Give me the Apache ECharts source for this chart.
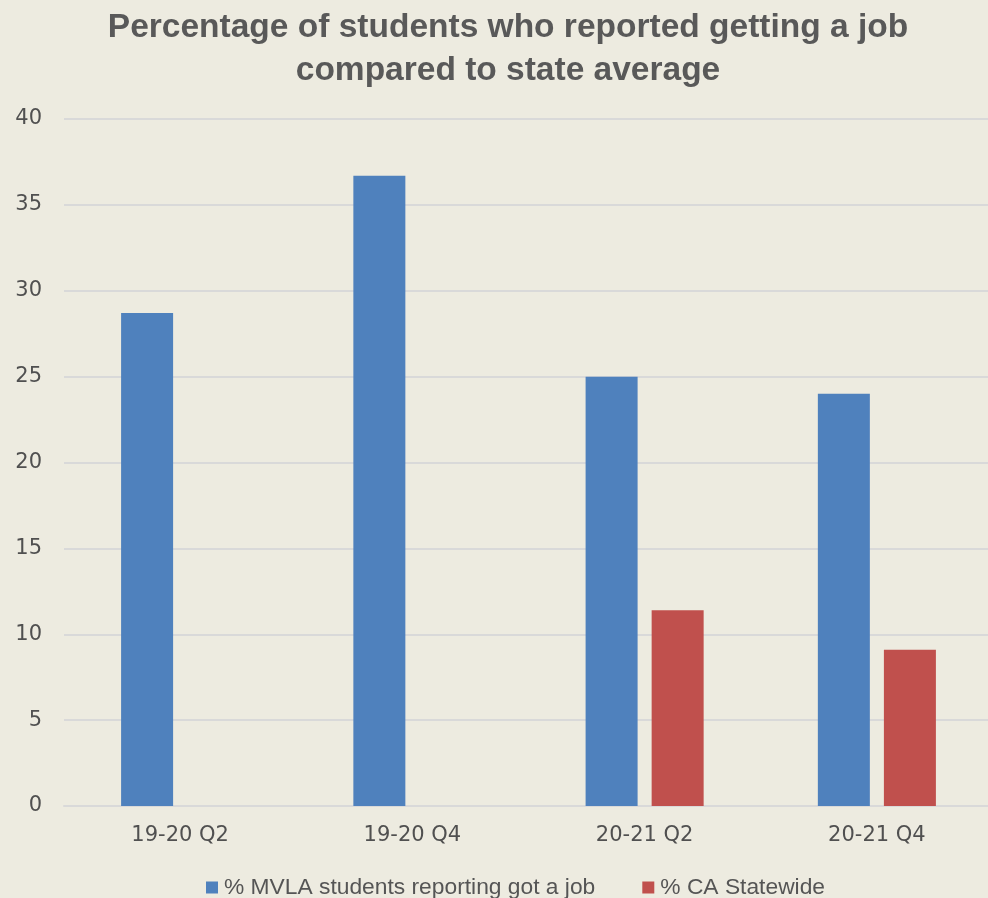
<!DOCTYPE html>
<html><head><meta charset="utf-8">
<script src="https://cdn.jsdelivr.net/npm/echarts@6/dist/echarts.min.js"></script>
<style>html,body{margin:0;padding:0;background:#EDEBE0;overflow:hidden;}#c{width:993px;height:898px;}</style>
</head><body><div id="c"></div>
<script>
const categories = ['19-20 Q2', '19-20 Q4', '20-21 Q2', '20-21 Q4'];
const mvla = [28.7, 36.7, 25.0, 24.0];
const statewide = [null, null, 11.4, 9.1];
const seriesNames = ['% MVLA students reporting got a job', '% CA Statewide'];
const titleText = 'Percentage of students who reported getting a job\ncompared to state average';

const chart = echarts.init(document.getElementById('c'));
chart.setOption({
  backgroundColor: '#EDEBE0',
  animation: false,
  title: {
    text: titleText, left: 508, top: 6, padding: 0, textAlign: 'center',
    textStyle: { fontFamily: '"Liberation Sans", sans-serif', fontSize: 33.5, fontWeight: 'bold', color: '#595959', lineHeight: 43, align: 'center' }
  },
  legend: {
    top: 876, left: 206, itemWidth: 12, itemHeight: 12, itemGap: 47, icon: 'rect', padding: 0,
    textStyle: { fontFamily: '"Liberation Sans", sans-serif', fontSize: 22.8, color: '#555555', lineHeight: 22, padding: [0, 0, 0, 1] },
    data: seriesNames
  },
  grid: { left: 64, top: 119, right: 0, bottom: 92, containLabel: false },
  xAxis: {
    type: 'category', data: categories,
    axisLine: { lineStyle: { color: '#D9D9D9', width: 2 } },
    axisTick: { show: false },
    axisLabel: { margin: 19, fontFamily: '"DejaVu Sans", sans-serif', fontSize: 21, color: '#505050' }
  },
  yAxis: {
    type: 'value', min: 0, max: 40, interval: 5,
    axisLine: { show: false }, axisTick: { show: false },
    splitLine: { lineStyle: { color: '#D9D9D9', width: 2 } },
    axisLabel: { margin: 22, fontFamily: '"DejaVu Sans", sans-serif', fontSize: 21, color: '#505050' }
  },
  series: [
    { name: seriesNames[0], type: 'bar', data: mvla, barWidth: 52, barGap: '27%', itemStyle: { color: '#4F81BD' } },
    { name: seriesNames[1], type: 'bar', data: statewide, barWidth: 52, itemStyle: { color: '#C0504D' } }
  ]
});
</script></body></html>
